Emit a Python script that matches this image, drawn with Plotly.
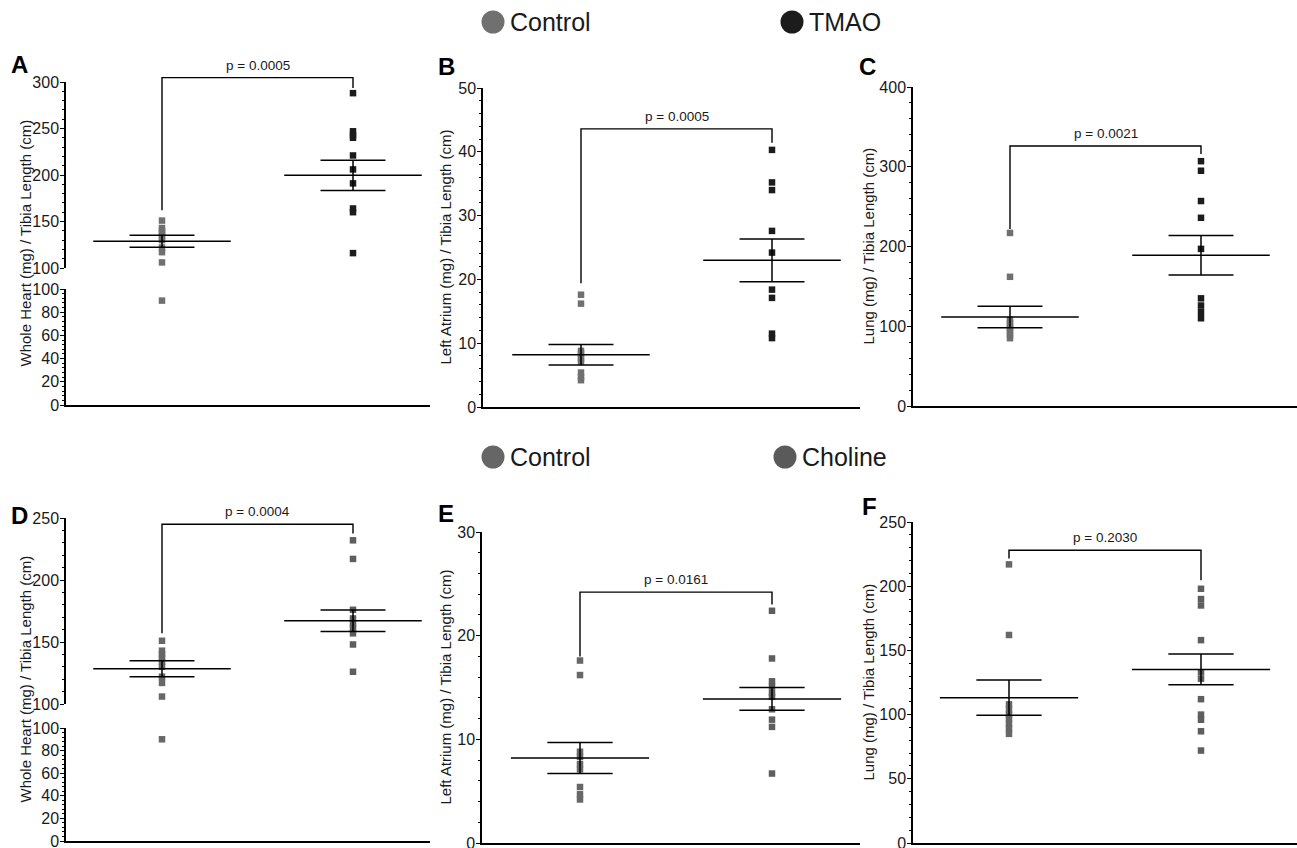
import plotly.graph_objects as go

W, H = 1297, 848
FONT = "Arial, Liberation Sans, sans-serif"

# ---------------- data ----------------
groups_top = ["Control", "TMAO"]
groups_bottom = ["Control", "Choline"]

ctrl_heart = [151, 143, 140, 137, 134, 130, 122, 117, 106, 90]
tmao_heart = [288, 247, 243, 240, 221, 206, 191, 164, 160, 116]
ctrl_la = [17.6, 16.2, 8.8, 8.3, 7.6, 7.1, 5.4, 4.7, 4.2]
tmao_la = [40.3, 35.2, 34.0, 27.6, 24.2, 18.4, 17.1, 11.5, 10.8]
ctrl_lung = [217, 162, 108, 104, 100, 97, 93, 89, 85]
tmao_lung = [307, 295, 257, 236, 197, 135, 126, 118, 110]
chol_heart = [232, 217, 176, 169, 165, 161, 157, 148, 126]
chol_la = [22.4, 17.8, 15.6, 15.1, 14.5, 14.1, 12.9, 11.9, 11.2, 6.7]
chol_lung = [198, 190, 185, 158, 133, 128, 112, 100, 96, 87, 72]

mean_A = [128.7, 199.6]; sem_A = [6.5, 16.2]
mean_B = [8.2, 23.0];    sem_B = [1.6, 3.35]
mean_C = [111.6, 189.0]; sem_C = [13.6, 24.8]
mean_D = [128.4, 167.2]; sem_D = [6.4, 8.7]
mean_E = [8.2, 13.9];    sem_E = [1.5, 1.1]
mean_F = [113.2, 135.2]; sem_F = [13.7, 12.0]

p_labels = ["p = 0.0005", "p = 0.0005", "p = 0.0021", "p = 0.0004", "p = 0.0161", "p = 0.2030"]
bracket_top = [304.7, 43.6, 326, 245, 24.2, 228]
bracket_left = [162, 19.4, 222, 157, 18.0, 221.5]
bracket_right = [293.5, 41.4, 316, 237.4, 23.0, 204.7]

y_titles = ["Whole Heart (mg) / Tibia Length (cm)", "Left Atrium (mg) / Tibia Length (cm)",
            "Lung (mg) / Tibia Length (cm)"]

# ---------------- layout / styling ----------------
def fx(px):
    return px / W

def fy(py):
    return 1 - py / H

C_CTRL1, C_TMAO, C_CTRL2, C_CHOL = "#707070", "#1c1c1c", "#676767", "#5e5e5e"

panels = [
    dict(letter="A", lpos=(19, 65), title=y_titles[0], tx=25, xpx=(66, 430), cpx=(162, 353),
         vals=(ctrl_heart, tmao_heart), cols=(C_CTRL1, C_TMAO), mean=mean_A, sem=sem_A,
         segs=[dict(py=(268, 82), r=(100, 300), dt=50, mn=10),
               dict(py=(405, 289), r=(0, 100), dt=20, mn=4)], top=40),
    dict(letter="B", lpos=(446, 67), title=y_titles[1], tx=445, xpx=(483, 860), cpx=(581, 772),
         vals=(ctrl_la, tmao_la), cols=(C_CTRL1, C_TMAO), mean=mean_B, sem=sem_B,
         segs=[dict(py=(407, 88), r=(0, 50), dt=10, mn=2)], top=40),
    dict(letter="C", lpos=(867, 67), title=y_titles[2], tx=868, xpx=(913, 1297), cpx=(1010, 1201),
         vals=(ctrl_lung, tmao_lung), cols=(C_CTRL1, C_TMAO), mean=mean_C, sem=sem_C,
         segs=[dict(py=(406, 87), r=(0, 400), dt=100, mn=20)], top=40),
    dict(letter="D", lpos=(19, 515), title=y_titles[0], tx=25, xpx=(66, 430), cpx=(162, 353),
         vals=(ctrl_heart, chol_heart), cols=(C_CTRL2, C_CHOL), mean=mean_D, sem=sem_D,
         segs=[dict(py=(704, 518), r=(100, 250), dt=50, mn=10),
               dict(py=(841, 728), r=(0, 100), dt=20, mn=4)], top=480),
    dict(letter="E", lpos=(446, 513), title=y_titles[1], tx=445, xpx=(482, 860), cpx=(580, 772),
         vals=(ctrl_la, chol_la), cols=(C_CTRL2, C_CHOL), mean=mean_E, sem=sem_E,
         segs=[dict(py=(843, 532), r=(0, 30), dt=10, mn=2)], top=480),
    dict(letter="F", lpos=(869, 507), title=y_titles[2], tx=868, xpx=(913, 1297), cpx=(1009, 1201),
         vals=(ctrl_lung, chol_lung), cols=(C_CTRL2, C_CHOL), mean=mean_F, sem=sem_F,
         segs=[dict(py=(843, 522), r=(0, 250), dt=50, mn=10)], top=480),
]

fig = go.Figure()
layout = dict(width=W, height=H, autosize=False,
              margin=dict(l=0, r=0, t=0, b=0, pad=0, autoexpand=False),
              paper_bgcolor="white", plot_bgcolor="rgba(0,0,0,0)", showlegend=False,
              font=dict(family=FONT, color="#1a1a1a"))
annotations, shapes = [], []

ycount = 0
for i, p in enumerate(panels):
    xi = i + 1
    xname = "x" if xi == 1 else f"x{xi}"
    xkey = "xaxis" if xi == 1 else f"xaxis{xi}"
    unit = p["cpx"][1] - p["cpx"][0]
    xr = [1 - (p["cpx"][0] - p["xpx"][0]) / unit, 2 + (p["xpx"][1] - p["cpx"][1]) / unit]

    seg_names = []
    for s, seg in enumerate(p["segs"]):
        ycount += 1
        yname = "y" if ycount == 1 else f"y{ycount}"
        ykey = "yaxis" if ycount == 1 else f"yaxis{ycount}"
        layout[ykey] = dict(domain=[fy(seg["py"][0]), fy(seg["py"][1])], range=list(seg["r"]),
                            anchor=xname, showline=True, linecolor="black", linewidth=1.5,
                            ticks="outside", ticklen=4, tickwidth=1.3, tickcolor="black",
                            tickmode="linear", tick0=seg["r"][0], dtick=seg["dt"],
                            minor=dict(ticks="outside", ticklen=2.5, tickwidth=0.9, tickcolor="black",
                                       tick0=seg["r"][0], dtick=seg["mn"]),
                            tickfont=dict(size=16, family=FONT, color="#1a1a1a"),
                            ticklabeloverflow="allow", ticklabelstandoff=-2,
                            showgrid=False, zeroline=False, fixedrange=True, automargin=False)
        seg_names.append((yname, seg))
    low_name = seg_names[-1][0]
    layout[xkey] = dict(domain=[fx(p["xpx"][0]), fx(p["xpx"][1])], range=xr, anchor=low_name,
                        showline=True, linecolor="black", linewidth=1.5, ticks="",
                        showticklabels=False, showgrid=False, zeroline=False, fixedrange=True,
                        automargin=False)

    # data points
    for g in range(2):
        vals = p["vals"][g]
        for yname, seg in seg_names:
            lo, hi = seg["r"]
            if len(seg_names) > 1:
                sel = [v for v in vals if (v >= 100 if lo >= 100 else v < 100)]
            else:
                sel = list(vals)
            if not sel:
                continue
            fig.add_trace(go.Scatter(x=[g + 1] * len(sel), y=sel, mode="markers",
                                     xaxis=xname, yaxis=yname, cliponaxis=False,
                                     marker=dict(symbol="square", size=6.5, color=p["cols"][g],
                                                 line=dict(width=0)),
                                     hoverinfo="y"))
    # mean +/- SEM in the top segment
    top_name, top_seg = seg_names[0]
    lx, ly = [], []
    for g in range(2):
        c, m, s = g + 1, p["mean"][g], p["sem"][g]
        lx += [c - 0.36, c + 0.36, None, c - 0.17, c + 0.17, None, c - 0.17, c + 0.17, None, c, c, None]
        ly += [m, m, None, m + s, m + s, None, m - s, m - s, None, m - s, m + s, None]
    fig.add_trace(go.Scatter(x=lx, y=ly, mode="lines", xaxis=xname, yaxis=top_name,
                             line=dict(color="black", width=1.5), hoverinfo="skip"))

    # bracket axis: same scale as the top segment, with a taller domain
    ycount += 1
    bname = f"y{ycount}"
    bkey = f"yaxis{ycount}"
    py_lo, py_hi = top_seg["py"]
    r0, r1 = top_seg["r"]
    r1b = r0 + (r1 - r0) * (py_lo - p["top"]) / (py_lo - py_hi)
    layout[bkey] = dict(domain=[fy(py_lo), fy(p["top"])], range=[r0, r1b], anchor=xname,
                        visible=False, fixedrange=True, automargin=False)
    fig.add_trace(go.Scatter(x=[1, 1, 2, 2],
                             y=[bracket_left[i], bracket_top[i], bracket_top[i], bracket_right[i]],
                             mode="lines", xaxis=xname, yaxis=bname,
                             line=dict(color="black", width=1.4), hoverinfo="skip"))
    annotations.append(dict(x=1.5, y=bracket_top[i], xref=xname, yref=bname, text=p_labels[i],
                            showarrow=False, xanchor="center", yanchor="bottom", yshift=3,
                            font=dict(size=13.5, family=FONT, color="#1a1a1a")))

    # axis title
    seg_top_py = p["segs"][0]["py"][1]
    seg_bot_py = p["segs"][-1]["py"][0]
    annotations.append(dict(x=fx(p["tx"]), y=fy((seg_top_py + seg_bot_py) / 2), xref="paper",
                            yref="paper", text=p["title"], textangle=-90, showarrow=False,
                            xanchor="center", yanchor="middle",
                            font=dict(size=15, family=FONT, color="#1a1a1a")))
    # panel letter
    annotations.append(dict(x=fx(p["lpos"][0]), y=fy(p["lpos"][1]), xref="paper", yref="paper",
                            text=f"<b>{p['letter']}</b>", showarrow=False,
                            xanchor="center", yanchor="middle",
                            font=dict(size=24, family=FONT, color="black")))

# legends (circle + label)
legend_items = [
    (groups_top[0], C_CTRL1, 493, 22), (groups_top[1], C_TMAO, 792, 22),
    (groups_bottom[0], "#666666", 493, 457), (groups_bottom[1], "#5a5a5a", 785, 457),
]
for name, col, cx, cy in legend_items:
    r = 11.5
    shapes.append(dict(type="circle", xref="paper", yref="paper",
                       x0=fx(cx - r), x1=fx(cx + r), y0=fy(cy + r), y1=fy(cy - r),
                       fillcolor=col, line=dict(width=0)))
    annotations.append(dict(x=fx(cx + 15), y=fy(cy), xref="paper", yref="paper", text=name,
                            showarrow=False, xanchor="left", yanchor="middle",
                            font=dict(size=25, family=FONT, color="#1a1a1a")))

layout["annotations"] = annotations
layout["shapes"] = shapes
fig.update_layout(**layout)
fig.write_html("out.html", config={"displayModeBar": False},
               post_script="document.body.style.margin='0';document.body.style.overflow='hidden';")
